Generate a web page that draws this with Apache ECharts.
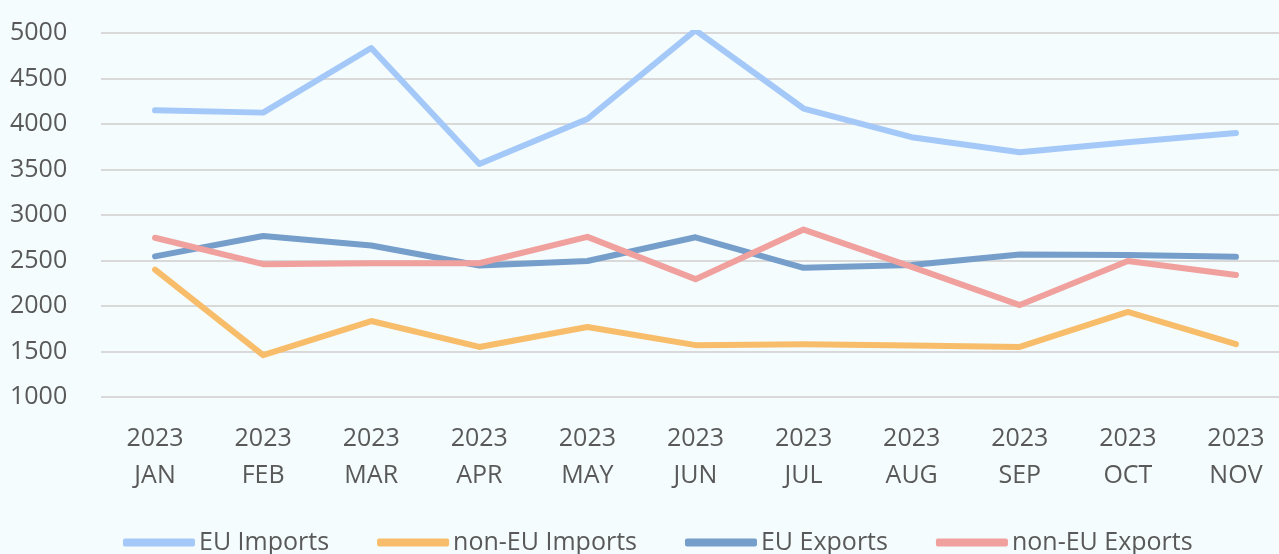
<!DOCTYPE html>
<html>
<head>
<meta charset="utf-8">
<script src="https://cdn.jsdelivr.net/npm/echarts@6/dist/echarts.min.js"></script>
<style>
  html, body { margin: 0; padding: 0; background: #f4fcfe; }
  #chart { width: 1279px; height: 554px; }
</style>
</head>
<body>
<div id="chart"></div>
<script>
// categories and values
const months = ['2023\nJAN', '2023\nFEB', '2023\nMAR', '2023\nAPR', '2023\nMAY', '2023\nJUN',
  '2023\nJUL', '2023\nAUG', '2023\nSEP', '2023\nOCT', '2023\nNOV'];
const euImports = [4150, 4125, 4835, 3560, 4055, 5030, 4170, 3855, 3690, 3800, 3900];
const nonEuImports = [2400, 1460, 1835, 1550, 1770, 1570, 1580, 1565, 1550, 1935, 1580];
const euExports = [2545, 2770, 2665, 2445, 2495, 2755, 2420, 2450, 2565, 2560, 2540];
const nonEuExports = [2750, 2460, 2470, 2470, 2760, 2295, 2840, 2430, 2010, 2495, 2340];

const names = ['EU Imports', 'non-EU Imports', 'EU Exports', 'non-EU Exports'];
const colors = ['#a4c9f8', '#f8bd6a', '#769ecb', '#f0a09d'];
const datas = [euImports, nonEuImports, euExports, nonEuExports];

const font = '"Open Sans", sans-serif';
let series = [];
for (let i = 0; i < datas.length; i++) {
  series.push({
    name: names[i],
    type: 'line',
    data: datas[i],
    symbol: 'none',
    color: colors[i],
    lineStyle: { width: 6, cap: 'round', join: 'round' },
    emphasis: { disabled: true },
    animation: false
  });
}

const myChart = echarts.init(document.getElementById('chart'));
const option = {
  backgroundColor: '#f4fcfe',
  // plot runs past the right edge of the picture, as in the reference
  grid: { left: 101, width: 1189, top: 33, bottom: 157, containLabel: false, outerBoundsMode: 'none' },
  legend: {
    data: names,
    left: 118,
    top: 525,
    itemWidth: 72,
    itemHeight: 8,
    itemGap: 48,
    icon: 'roundRect',
    textStyle: { fontFamily: font, fontSize: 25, color: '#595959', padding: [0, 0, 0, -1] }
  },
  xAxis: {
    type: 'category',
    data: months,
    boundaryGap: true,
    axisLine: { show: false },
    axisTick: { show: false },
    axisLabel: {
      margin: 23,
      fontFamily: font,
      fontSize: 25,
      lineHeight: 37,
      color: '#595959',
      interval: 0
    }
  },
  yAxis: {
    type: 'value',
    min: 1000,
    max: 5000,
    interval: 500,
    axisLine: { show: false },
    axisTick: { show: false },
    axisLabel: {
      align: 'left',
      margin: 91,
      fontFamily: font,
      fontSize: 25,
      color: '#595959',
      formatter: function (v) { return String(v); }
    },
    splitLine: { lineStyle: { color: '#d9d9d9', width: 2 } }
  },
  series: series
};
myChart.setOption(option);
</script>
</body>
</html>
